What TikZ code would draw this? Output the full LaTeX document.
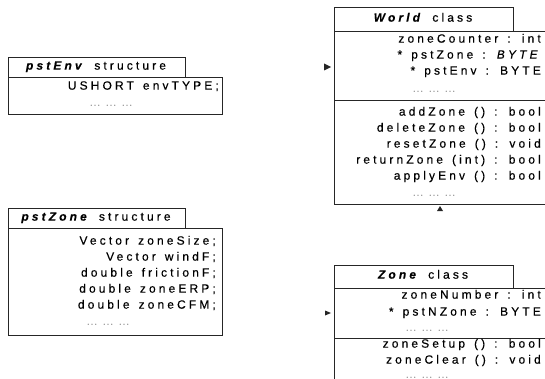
\documentclass[tikz,border=0pt]{standalone}
\usepackage{fontspec}
\setmainfont{Liberation Sans}
\newfontfamily\umlfont[LetterSpace=26,WordSpace=1.4,FakeBold=0.3]{Liberation Sans}
\begin{document}
\begin{tikzpicture}[x=1pt,y=-1pt,
  box/.style={draw=black!85, line width=0.8pt},
  tabtext/.style={font=\umlfont\fontsize{12}{14}\selectfont, inner sep=0pt, anchor=mid},
  row/.style={font=\umlfont\fontsize{12}{14}\selectfont, inner sep=0pt, anchor=mid east},
  more/.style={font=\umlfont\fontsize{7}{8}\selectfont, text=black!70, inner sep=0pt, anchor=mid},
  tip/.style={fill=black!85}]
\useasboundingbox (0,0) rectangle (545,379);
\clip (0,0) rectangle (545,379);

% ---------- pstEnv structure ----------
\draw[box] (8,57) rectangle (185,77);
\draw[box] (8,77) rectangle (222,114);
\node[tabtext] (envTitle) at (96,67) {\textbf{\textit{pstEnv}} structure};
\node[row] (envType) at (219,87) {USHORT envTYPE;};
\node[more] (envMore) at (111,103) {... ... ...};

% ---------- pstZone structure ----------
\draw[box] (8,208) rectangle (185,228);
\draw[box] (8,228) rectangle (222,335);
\node[tabtext] (pzTitle) at (96,218) {\textbf{\textit{pstZone}} structure};
\node[row] (pzSize) at (216,242) {Vector zoneSize;};
\node[row] (pzWind) at (216,258) {Vector windF;};
\node[row] (pzFric) at (216,274) {double frictionF;};
\node[row] (pzErp)  at (216,290) {double zoneERP;};
\node[row] (pzCfm)  at (216,306) {double zoneCFM;};
\node[more] (pzMore) at (108,322) {... ... ...};

% ---------- World class ----------
\draw[box] (334,7) rectangle (513,31);
\draw[box] (334,31) rectangle (560,204);
\draw[box] (334,100) -- (560,100);
\node[tabtext] (worldTitle) at (423,19) {\textbf{\textit{World}} class};
\node[row] (wCounter) at (541,40) {zoneCounter : int};
\node[row] (wZone)    at (541,56) {* pstZone : \textit{BYTE}};
\node[row] (wEnv)     at (541,72) {* pstEnv : BYTE};
\node[more] (wMoreA)  at (434,89) {... ... ...};
\node[row] (wAdd)     at (541,113) {addZone () : bool};
\node[row] (wDel)     at (541,129) {deleteZone () : bool};
\node[row] (wReset)   at (541,145) {resetZone () : void};
\node[row] (wReturn)  at (541,161) {returnZone (int) : bool};
\node[row] (wApply)   at (541,177) {applyEnv () : bool};
\node[more] (wMoreB)  at (434,193) {... ... ...};

% ---------- Zone class ----------
\draw[box] (334,265) rectangle (513,288);
\draw[box] (334,288) rectangle (560,395);
\draw[box] (334,338) -- (560,338);
\node[tabtext] (zoneTitle) at (423,276) {\textbf{\textit{Zone}} class};
\node[row] (zNumber) at (541,296) {zoneNumber : int};
\node[row] (zPtr)    at (541,313) {* pstNZone : BYTE};
\node[more] (zMoreA) at (427,328) {... ... ...};
\node[row] (zSetup)  at (541,345) {zoneSetup () : bool};
\node[row] (zClear)  at (541,361) {zoneClear () : void};
\node[more] (zMoreB) at (427,375) {... ... ...};

% ---------- arrow tips ----------
\coordinate (worldIn) at (331,67);
\coordinate (zoneIn) at (331,313);
\coordinate (worldUp) at (440,206);
\fill[tip] (worldIn) -- ++(-7,-3.5) -- ++(0,7) -- cycle;
\fill[tip] (zoneIn) -- ++(-6,-2.5) -- ++(0,5) -- cycle;
\fill[tip] (worldUp) -- ++(-3,5) -- ++(6,0) -- cycle;
\end{tikzpicture}
\end{document}
